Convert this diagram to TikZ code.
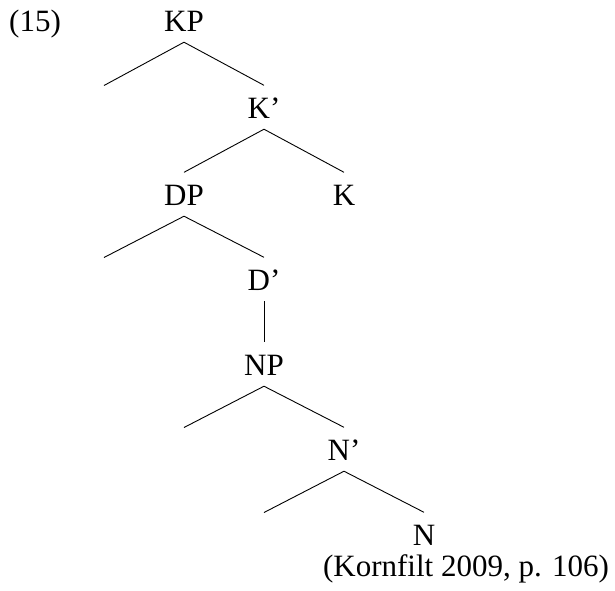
\documentclass[tikz,border=0pt]{standalone}
\usepackage{fontspec}
\setmainfont{Liberation Serif}
\tikzset{
  cat/.style={anchor=base, inner xsep=0pt, inner ysep=11pt, text height=21.5pt, text depth=0pt, font=\fontsize{31}{37}\selectfont},
  plain/.style={anchor=base, inner sep=0pt, font=\fontsize{31}{37}\selectfont},
  branch/.style={line width=0.9pt}
}

\begin{document}
\begin{tikzpicture}[x=1pt,y=-1pt]
			%%%%% START %%%%%
			\useasboundingbox (0,0) rectangle (615,590);
			
			\node[plain, anchor=base west] (exnum) at (9, 31) {(15)};
			
			\node[cat] (kp) at (184, 31) {KP};
			\coordinate (kpspec) at (104, 85.5);
			\node[cat] (kbar) at (264, 118) {K'};
			\draw[branch] (kp.south) -- (kpspec);
			\draw[branch] (kp.south) -- (kbar.north);
			
			\node[cat] (dp) at (184, 205) {DP};
			\node[cat] (k) at (344, 205) {K};
			\draw[branch] (kbar.south) -- (dp.north);
			\draw[branch] (kbar.south) -- (k.north);
			
			\coordinate (dpspec) at (104, 257.5);
			\node[cat] (dbar) at (264, 290) {D'};
			\draw[branch] (dp.south) -- (dpspec);
			\draw[branch] (dp.south) -- (dbar.north);
			
			\node[cat] (np) at (264, 375) {NP};
			\draw[branch] (dbar.south) -- (np.north);
			
			\coordinate (npspec) at (184, 427.5);
			\node[cat] (nbar) at (344, 460) {N'};
			\draw[branch] (np.south) -- (npspec);
			\draw[branch] (np.south) -- (nbar.north);
			
			\coordinate (nbarspec) at (264, 512.5);
			\node[cat] (n) at (424, 545) {N};
			\draw[branch] (nbar.south) -- (nbarspec);
			\draw[branch] (nbar.south) -- (n.north);
			
			\node[plain] (source) at (466, 576) {(Kornfilt 2009, p. 106)};
			%%%%% END %%%%%
\end{tikzpicture}
\end{document}
